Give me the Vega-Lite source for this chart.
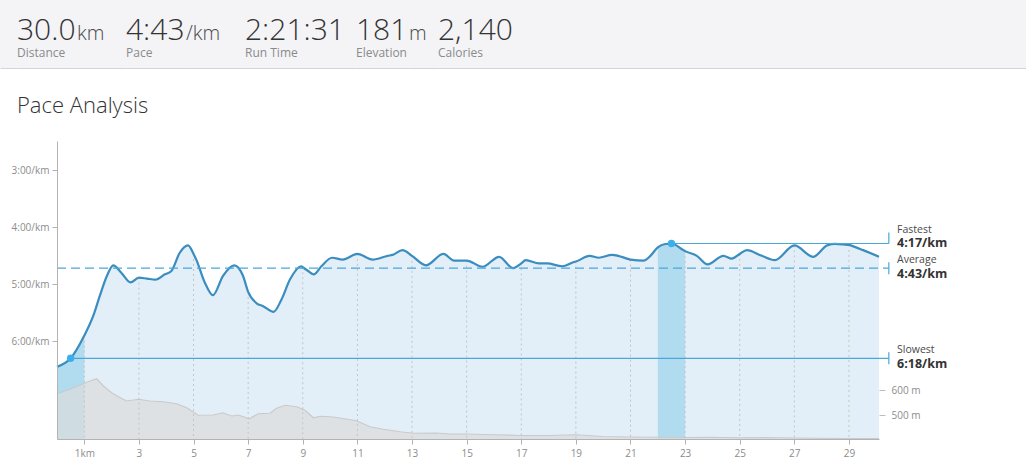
{
  "$schema": "https://vega.github.io/schema/vega-lite/v6.json",
  "padding": 0,
  "background": "#ffffff",
  "spacing": 27,
  "config": {
    "font": "Open Sans",
    "view": {"stroke": null},
    "axis": {"labelFont": "Open Sans", "labelColor": "#8c8c8c", "labelFontSize": 10, "domainColor": "#b3b3b3", "tickColor": "#b3b3b3", "grid": false},
    "style": {
      "statValue": {"align": "left", "baseline": "alphabetic", "dy": 6, "fontSize": 30, "fontWeight": 300, "color": "#333333"},
      "statUnit": {"align": "left", "baseline": "alphabetic", "dy": 6, "fontSize": 20, "fontWeight": 300, "color": "#4a4a4a"},
      "statLabel": {"align": "left", "baseline": "alphabetic", "dy": 23, "fontSize": 12, "fontWeight": 400, "color": "#8a8a8a"},
      "noteName": {"align": "left", "baseline": "middle", "dy": -8, "fontSize": 10.5, "color": "#4a4a4a"},
      "noteValue": {"align": "left", "baseline": "middle", "dy": 6, "fontSize": 12.5, "fontWeight": "bold", "color": "#333333"}
    }
  },
  "datasets": {
    "stats": [
      {"stat": "Distance", "value": "30.0", "unit": "km"},
      {"stat": "Pace", "value": "4:43", "unit": "/km"},
      {"stat": "Run Time", "value": "2:21:31", "unit": ""},
      {"stat": "Elevation", "value": "181", "unit": "m"},
      {"stat": "Calories", "value": "2,140", "unit": ""}
    ],
    "pace": [
      {"km": 0, "pace": 387}, {"km": 0.5, "pace": 378}, {"km": 1, "pace": 354}, {"km": 1.33, "pace": 333},
      {"km": 1.57, "pace": 312}, {"km": 1.83, "pace": 291}, {"km": 2.06, "pace": 280}, {"km": 2.36, "pace": 288},
      {"km": 2.69, "pace": 298}, {"km": 3, "pace": 293}, {"km": 3.3, "pace": 294}, {"km": 3.6, "pace": 295},
      {"km": 3.95, "pace": 289.5}, {"km": 4.19, "pace": 286}, {"km": 4.49, "pace": 267}, {"km": 4.8, "pace": 259},
      {"km": 5, "pace": 268}, {"km": 5.1, "pace": 274}, {"km": 5.41, "pace": 298}, {"km": 5.71, "pace": 311.5},
      {"km": 6.08, "pace": 291}, {"km": 6.49, "pace": 280}, {"km": 6.81, "pace": 291}, {"km": 7, "pace": 308},
      {"km": 7.31, "pace": 320}, {"km": 7.55, "pace": 323}, {"km": 7.93, "pace": 329}, {"km": 8.22, "pace": 316},
      {"km": 8.53, "pace": 295}, {"km": 8.95, "pace": 281}, {"km": 9, "pace": 282}, {"km": 9.2, "pace": 286},
      {"km": 9.4, "pace": 289.5}, {"km": 9.68, "pace": 281}, {"km": 10.07, "pace": 272}, {"km": 10.46, "pace": 274},
      {"km": 11, "pace": 268}, {"km": 11.56, "pace": 274}, {"km": 12.11, "pace": 270}, {"km": 12.29, "pace": 269},
      {"km": 12.65, "pace": 264}, {"km": 13, "pace": 270}, {"km": 13.51, "pace": 280}, {"km": 14.15, "pace": 268},
      {"km": 14.54, "pace": 275}, {"km": 15, "pace": 275}, {"km": 15.58, "pace": 281.5}, {"km": 16.19, "pace": 271},
      {"km": 16.7, "pace": 283}, {"km": 17, "pace": 278}, {"km": 17.16, "pace": 274.5}, {"km": 17.65, "pace": 278},
      {"km": 17.95, "pace": 278}, {"km": 18.5, "pace": 281}, {"km": 18.93, "pace": 276.5}, {"km": 19, "pace": 276},
      {"km": 19.5, "pace": 270}, {"km": 19.84, "pace": 272}, {"km": 20.33, "pace": 269}, {"km": 20.94, "pace": 273.5},
      {"km": 21, "pace": 274}, {"km": 21.48, "pace": 275}, {"km": 21.73, "pace": 270}, {"km": 22, "pace": 261},
      {"km": 22.28, "pace": 257.5}, {"km": 22.5, "pace": 257}, {"km": 22.94, "pace": 264}, {"km": 23, "pace": 265},
      {"km": 23.43, "pace": 270}, {"km": 23.82, "pace": 279}, {"km": 24.4, "pace": 270}, {"km": 24.71, "pace": 273},
      {"km": 25, "pace": 268}, {"km": 25.26, "pace": 264}, {"km": 25.81, "pace": 270}, {"km": 26.29, "pace": 274.5},
      {"km": 27, "pace": 259}, {"km": 27.69, "pace": 271}, {"km": 28.2, "pace": 259}, {"km": 28.5, "pace": 257.5},
      {"km": 28.8, "pace": 258}, {"km": 29, "pace": 258.5}, {"km": 29.16, "pace": 260}, {"km": 29.52, "pace": 264},
      {"km": 30.1, "pace": 271}
    ],
    "elev": [
      {"km": 0, "elev": 585}, {"km": 0.48, "elev": 603}, {"km": 0.96, "elev": 625}, {"km": 1.21, "elev": 636},
      {"km": 1.45, "elev": 645}, {"km": 1.7, "elev": 616}, {"km": 2.0, "elev": 589}, {"km": 2.3, "elev": 570},
      {"km": 2.55, "elev": 556}, {"km": 2.98, "elev": 563}, {"km": 3.4, "elev": 556}, {"km": 3.89, "elev": 553},
      {"km": 4.38, "elev": 545}, {"km": 4.75, "elev": 529}, {"km": 5.17, "elev": 499}, {"km": 5.72, "elev": 500},
      {"km": 6.07, "elev": 509}, {"km": 6.4, "elev": 496}, {"km": 6.64, "elev": 500}, {"km": 7.04, "elev": 485},
      {"km": 7.37, "elev": 505}, {"km": 7.8, "elev": 507}, {"km": 8.04, "elev": 527}, {"km": 8.35, "elev": 539},
      {"km": 8.78, "elev": 533}, {"km": 9.08, "elev": 519}, {"km": 9.39, "elev": 489}, {"km": 9.63, "elev": 495},
      {"km": 10.12, "elev": 492}, {"km": 10.97, "elev": 477}, {"km": 11.46, "elev": 453}, {"km": 11.95, "elev": 443},
      {"km": 12.56, "elev": 433}, {"km": 13.05, "elev": 427}, {"km": 13.9, "elev": 428}, {"km": 14.39, "elev": 424},
      {"km": 15, "elev": 424}, {"km": 16, "elev": 421}, {"km": 17, "elev": 418}, {"km": 18, "elev": 418},
      {"km": 19, "elev": 421}, {"km": 20, "elev": 414}, {"km": 21, "elev": 412}, {"km": 22, "elev": 411},
      {"km": 23, "elev": 410}, {"km": 24, "elev": 411}, {"km": 25, "elev": 409}, {"km": 26, "elev": 410},
      {"km": 27, "elev": 408}, {"km": 28, "elev": 407}, {"km": 29, "elev": 406}, {"km": 30.1, "elev": 406}
    ],
    "laps": [
      {"lap": "Slowest km", "start": 0, "end": 1},
      {"lap": "Fastest km", "start": 22, "end": 23}
    ],
    "notes": [
      {"name": "Fastest", "pace": 257, "km": 22.5, "label": "4:17/km"},
      {"name": "Average", "pace": 283, "km": 0, "label": "4:43/km"},
      {"name": "Slowest", "pace": 378, "km": 0.5, "label": "6:18/km"}
    ]
  },
  "vconcat": [
    {
      "hconcat": [
        {"width": 17, "height": 68, "view": {"fill": "#f4f4f7", "stroke": null}, "data": {"name": "stats"},
         "transform": [{"filter": {"field": "stat", "equal": "Distance"}}],
         "mark": {"type": "text", "style": "statUnit"},
         "encoding": {
           "x": {"field": "stat", "type": "nominal", "scale": {"type": "point", "align": 0}, "axis": {"orient": "bottom", "labels": false, "ticks": false, "title": null, "domainColor": "#d3d3d9"}},
           "text": {"value": ""}
         }},
        {"width": 60, "height": 68, "view": {"fill": "#f4f4f7", "stroke": null}, "data": {"name": "stats"},
         "transform": [{"filter": {"field": "stat", "equal": "Distance"}}],
         "encoding": {"x": {"field": "stat", "type": "nominal", "scale": {"type": "point", "align": 0}, "axis": {"orient": "bottom", "labels": false, "ticks": false, "title": null, "domainColor": "#d3d3d9"}}},
         "layer": [
           {"mark": {"type": "text", "style": "statValue"}, "encoding": {"text": {"field": "value"}}},
           {"mark": {"type": "text", "style": "statLabel"}, "encoding": {"text": {"field": "stat"}}}
         ]},
        {"width": 49, "height": 68, "view": {"fill": "#f4f4f7", "stroke": null}, "data": {"name": "stats"},
         "transform": [{"filter": {"field": "stat", "equal": "Distance"}}],
         "encoding": {"x": {"field": "stat", "type": "nominal", "scale": {"type": "point", "align": 0}, "axis": {"orient": "bottom", "labels": false, "ticks": false, "title": null, "domainColor": "#d3d3d9"}}},
         "layer": [
           {"mark": {"type": "text", "style": "statUnit"}, "encoding": {"text": {"field": "unit"}}}
         ]},
        {"width": 60, "height": 68, "view": {"fill": "#f4f4f7", "stroke": null}, "data": {"name": "stats"},
         "transform": [{"filter": {"field": "stat", "equal": "Pace"}}],
         "encoding": {"x": {"field": "stat", "type": "nominal", "scale": {"type": "point", "align": 0}, "axis": {"orient": "bottom", "labels": false, "ticks": false, "title": null, "domainColor": "#d3d3d9"}}},
         "layer": [
           {"mark": {"type": "text", "style": "statValue"}, "encoding": {"text": {"field": "value"}}},
           {"mark": {"type": "text", "style": "statLabel"}, "encoding": {"text": {"field": "stat"}}}
         ]},
        {"width": 59, "height": 68, "view": {"fill": "#f4f4f7", "stroke": null}, "data": {"name": "stats"},
         "transform": [{"filter": {"field": "stat", "equal": "Pace"}}],
         "encoding": {"x": {"field": "stat", "type": "nominal", "scale": {"type": "point", "align": 0}, "axis": {"orient": "bottom", "labels": false, "ticks": false, "title": null, "domainColor": "#d3d3d9"}}},
         "layer": [
           {"mark": {"type": "text", "style": "statUnit"}, "encoding": {"text": {"field": "unit"}}}
         ]},
        {"width": 111, "height": 68, "view": {"fill": "#f4f4f7", "stroke": null}, "data": {"name": "stats"},
         "transform": [{"filter": {"field": "stat", "equal": "Run Time"}}],
         "encoding": {"x": {"field": "stat", "type": "nominal", "scale": {"type": "point", "align": 0}, "axis": {"orient": "bottom", "labels": false, "ticks": false, "title": null, "domainColor": "#d3d3d9"}}},
         "layer": [
           {"mark": {"type": "text", "style": "statValue"}, "encoding": {"text": {"field": "value"}}},
           {"mark": {"type": "text", "style": "statLabel"}, "encoding": {"text": {"field": "stat"}}}
         ]},
        {"width": 53, "height": 68, "view": {"fill": "#f4f4f7", "stroke": null}, "data": {"name": "stats"},
         "transform": [{"filter": {"field": "stat", "equal": "Elevation"}}],
         "encoding": {"x": {"field": "stat", "type": "nominal", "scale": {"type": "point", "align": 0}, "axis": {"orient": "bottom", "labels": false, "ticks": false, "title": null, "domainColor": "#d3d3d9"}}},
         "layer": [
           {"mark": {"type": "text", "style": "statValue"}, "encoding": {"text": {"field": "value"}}},
           {"mark": {"type": "text", "style": "statLabel"}, "encoding": {"text": {"field": "stat"}}}
         ]},
        {"width": 29, "height": 68, "view": {"fill": "#f4f4f7", "stroke": null}, "data": {"name": "stats"},
         "transform": [{"filter": {"field": "stat", "equal": "Elevation"}}],
         "encoding": {"x": {"field": "stat", "type": "nominal", "scale": {"type": "point", "align": 0}, "axis": {"orient": "bottom", "labels": false, "ticks": false, "title": null, "domainColor": "#d3d3d9"}}},
         "layer": [
           {"mark": {"type": "text", "style": "statUnit"}, "encoding": {"text": {"field": "unit"}}}
         ]},
        {"width": 588, "height": 68, "view": {"fill": "#f4f4f7", "stroke": null}, "data": {"name": "stats"},
         "transform": [{"filter": {"field": "stat", "equal": "Calories"}}],
         "encoding": {"x": {"field": "stat", "type": "nominal", "scale": {"type": "point", "align": 0}, "axis": {"orient": "bottom", "labels": false, "ticks": false, "title": null, "domainColor": "#d3d3d9"}}},
         "layer": [
           {"mark": {"type": "text", "style": "statValue"}, "encoding": {"text": {"field": "value"}}},
           {"mark": {"type": "text", "style": "statLabel"}, "encoding": {"text": {"field": "stat"}}}
         ]}
      ],
      "spacing": 0,
      "bounds": "flush"
    },
    {
      "spacing": 0,
      "hconcat": [
        {
          "width": 1,
          "height": 298,
          "data": {"name": "stats"},
          "transform": [{"filter": {"field": "stat", "equal": "Distance"}}],
          "mark": {"type": "text"},
          "encoding": {"text": {"value": ""}}
        },
        {
          "width": 822,
          "height": 298,
          "title": {"text": "Pace Analysis", "anchor": "start", "frame": "group", "dx": -40, "offset": 6, "fontSize": 22, "fontWeight": 300, "font": "Open Sans", "color": "#333333", "baseline": "alphabetic"},
          "resolve": {"scale": {"y": "independent"}},
          "layer": [
            {
              "layer": [
                {"data": {"name": "pace"},
                 "mark": {"type": "area", "interpolate": "monotone", "color": "#e3eff8"},
                 "encoding": {
                   "x": {"field": "km", "type": "quantitative", "scale": {"domain": [0, 30.1], "nice": false, "zero": false},
                         "axis": {"values": [1, 3, 5, 7, 9, 11, 13, 15, 17, 19, 21, 23, 25, 27, 29], "labelExpr": "datum.value == 1 ? '1km' : datum.label", "tickSize": 5, "labelPadding": 4, "title": null, "zindex": 1}},
                   "y": {"field": "pace", "type": "quantitative", "scale": {"domain": [149, 463], "reverse": true, "nice": false, "zero": false},
                         "axis": {"orient": "left", "values": [180, 240, 300, 360], "labelExpr": "floor(datum.value / 60) + ':00/km'", "tickSize": 5, "labelPadding": 3, "minExtent": 56, "title": null, "zindex": 1}},
                   "y2": {"datum": 463}
                 }},
                {"data": {"name": "laps"},
                 "mark": {"type": "rect", "color": "#b1dcf0"},
                 "encoding": {
                   "x": {"field": "start", "type": "quantitative", "scale": {"domain": [0, 30.1], "nice": false, "zero": false}},
                   "x2": {"field": "end"}
                 }},
                {"data": {"name": "pace"},
                 "mark": {"type": "area", "interpolate": "monotone", "color": "#ffffff"},
                 "encoding": {
                   "x": {"field": "km", "type": "quantitative", "scale": {"domain": [0, 30.1], "nice": false, "zero": false}},
                   "y": {"field": "pace", "type": "quantitative", "scale": {"domain": [149, 463], "reverse": true, "nice": false, "zero": false}},
                   "y2": {"datum": 149}
                 }}
              ]
            },
            {
              "data": {"name": "elev"},
              "mark": {"type": "area", "color": "#dbdbdb", "line": {"color": "#cacaca", "strokeWidth": 1.2}},
              "encoding": {
                "x": {"field": "km", "type": "quantitative", "scale": {"domain": [0, 30.1], "nice": false, "zero": false}},
                "y": {"field": "elev", "type": "quantitative", "scale": {"domain": [404, 1596], "nice": false, "zero": false},
                      "axis": {"orient": "right", "values": [500, 600], "labelExpr": "datum.value + ' m'", "domain": false, "tickSize": 6, "labelPadding": 6, "title": null, "tickColor": "#bdbdbd"}},
                "y2": {"datum": 404}
              }
            },
            {
              "layer": [
                {"data": {"name": "pace"},
                 "transform": [{"filter": {"field": "km", "oneOf": [1, 3, 5, 7, 9, 11, 13, 15, 17, 19, 21, 23, 25, 27, 29]}}],
                 "mark": {"type": "rule", "color": "#c3c3c3", "strokeDash": [2, 3], "strokeWidth": 1},
                 "encoding": {
                   "x": {"field": "km", "type": "quantitative", "scale": {"domain": [0, 30.1], "nice": false, "zero": false}},
                   "y": {"field": "pace", "type": "quantitative", "scale": {"domain": [149, 463], "reverse": true, "nice": false, "zero": false}, "axis": null},
                   "y2": {"datum": 463}
                 }},
                {"data": {"name": "pace"},
                 "mark": {"type": "line", "interpolate": "monotone", "color": "#3a8dbe", "strokeWidth": 2.2},
                 "encoding": {
                   "x": {"field": "km", "type": "quantitative", "scale": {"domain": [0, 30.1], "nice": false, "zero": false}},
                   "y": {"field": "pace", "type": "quantitative", "scale": {"domain": [149, 463], "reverse": true, "nice": false, "zero": false}, "axis": null}
                 }},
                {"data": {"name": "notes"},
                 "transform": [{"filter": {"field": "name", "equal": "Slowest"}}],
                 "mark": {"type": "rule", "color": "#4ba7d9", "strokeWidth": 1.2},
                 "encoding": {
                   "x": {"field": "km", "type": "quantitative", "scale": {"domain": [0, 30.1], "nice": false, "zero": false}},
                   "x2": {"datum": 30.46},
                   "y": {"field": "pace", "type": "quantitative", "scale": {"domain": [149, 463], "reverse": true, "nice": false, "zero": false}, "axis": null}
                 }},
                {"data": {"name": "notes"},
                 "transform": [{"filter": {"field": "name", "equal": "Average"}}],
                 "mark": {"type": "rule", "color": "#4ba7d9", "strokeWidth": 1.2, "strokeDash": [9, 5]},
                 "encoding": {
                   "x": {"field": "km", "type": "quantitative", "scale": {"domain": [0, 30.1], "nice": false, "zero": false}},
                   "x2": {"datum": 30.46},
                   "y": {"field": "pace", "type": "quantitative", "scale": {"domain": [149, 463], "reverse": true, "nice": false, "zero": false}, "axis": null}
                 }},
                {"data": {"name": "notes"},
                 "transform": [{"filter": {"field": "name", "oneOf": ["Average", "Slowest"]}}],
                 "mark": {"type": "tick", "orient": "vertical", "size": 12, "thickness": 1.2, "color": "#4ba7d9", "opacity": 1},
                 "encoding": {
                   "x": {"datum": 30.46, "type": "quantitative", "scale": {"domain": [0, 30.1], "nice": false, "zero": false}},
                   "y": {"field": "pace", "type": "quantitative", "scale": {"domain": [149, 463], "reverse": true, "nice": false, "zero": false}, "axis": null}
                 }},
                {"data": {"name": "notes"},
                 "transform": [{"filter": {"field": "name", "oneOf": ["Average", "Slowest"]}}],
                 "mark": {"type": "text", "style": "noteName"},
                 "encoding": {
                   "x": {"datum": 30.76, "type": "quantitative", "scale": {"domain": [0, 30.1], "nice": false, "zero": false}},
                   "y": {"field": "pace", "type": "quantitative", "scale": {"domain": [149, 463], "reverse": true, "nice": false, "zero": false}, "axis": null},
                   "text": {"field": "name"}
                 }},
                {"data": {"name": "notes"},
                 "transform": [{"filter": {"field": "name", "equal": "Fastest"}}],
                 "mark": {"type": "text", "style": "noteName", "dy": -13},
                 "encoding": {
                   "x": {"datum": 30.76, "type": "quantitative", "scale": {"domain": [0, 30.1], "nice": false, "zero": false}},
                   "y": {"field": "pace", "type": "quantitative", "scale": {"domain": [149, 463], "reverse": true, "nice": false, "zero": false}, "axis": null},
                   "text": {"field": "name"}
                 }},
                {"data": {"name": "notes"},
                 "transform": [{"filter": {"field": "name", "oneOf": ["Average", "Slowest"]}}],
                 "mark": {"type": "text", "style": "noteValue"},
                 "encoding": {
                   "x": {"datum": 30.76, "type": "quantitative", "scale": {"domain": [0, 30.1], "nice": false, "zero": false}},
                   "y": {"field": "pace", "type": "quantitative", "scale": {"domain": [149, 463], "reverse": true, "nice": false, "zero": false}, "axis": null},
                   "text": {"field": "label"}
                 }},
                {"data": {"name": "notes"},
                 "transform": [{"filter": {"field": "name", "equal": "Fastest"}}],
                 "mark": {"type": "text", "style": "noteValue", "dy": 0},
                 "encoding": {
                   "x": {"datum": 30.76, "type": "quantitative", "scale": {"domain": [0, 30.1], "nice": false, "zero": false}},
                   "y": {"field": "pace", "type": "quantitative", "scale": {"domain": [149, 463], "reverse": true, "nice": false, "zero": false}, "axis": null},
                   "text": {"field": "label"}
                 }},
                {"data": {"name": "notes"},
                 "transform": [{"filter": {"field": "name", "equal": "Fastest"}}],
                 "mark": {"type": "rule", "color": "#4ba7d9", "strokeWidth": 1.2},
                 "encoding": {
                   "x": {"field": "km", "type": "quantitative", "scale": {"domain": [0, 30.1], "nice": false, "zero": false}},
                   "x2": {"datum": 30.46},
                   "y": {"field": "pace", "type": "quantitative", "scale": {"domain": [149, 463], "reverse": true, "nice": false, "zero": false}, "axis": null}
                 }},
                {"data": {"name": "notes"},
                 "transform": [{"filter": {"field": "name", "equal": "Fastest"}}],
                 "mark": {"type": "tick", "orient": "vertical", "size": 11, "thickness": 1.2, "color": "#4ba7d9", "opacity": 1, "yOffset": -5.5},
                 "encoding": {
                   "x": {"datum": 30.46, "type": "quantitative", "scale": {"domain": [0, 30.1], "nice": false, "zero": false}},
                   "y": {"field": "pace", "type": "quantitative", "scale": {"domain": [149, 463], "reverse": true, "nice": false, "zero": false}, "axis": null}
                 }},
                {"data": {"name": "notes"},
                 "transform": [{"filter": {"field": "name", "oneOf": ["Fastest", "Slowest"]}}],
                 "mark": {"type": "circle", "size": 55, "color": "#3cafea", "opacity": 1},
                 "encoding": {
                   "x": {"field": "km", "type": "quantitative", "scale": {"domain": [0, 30.1], "nice": false, "zero": false}},
                   "y": {"field": "pace", "type": "quantitative", "scale": {"domain": [149, 463], "reverse": true, "nice": false, "zero": false}, "axis": null}
                 }}
              ]
            }
          ]
        }
      ]
    }
  ]
}
